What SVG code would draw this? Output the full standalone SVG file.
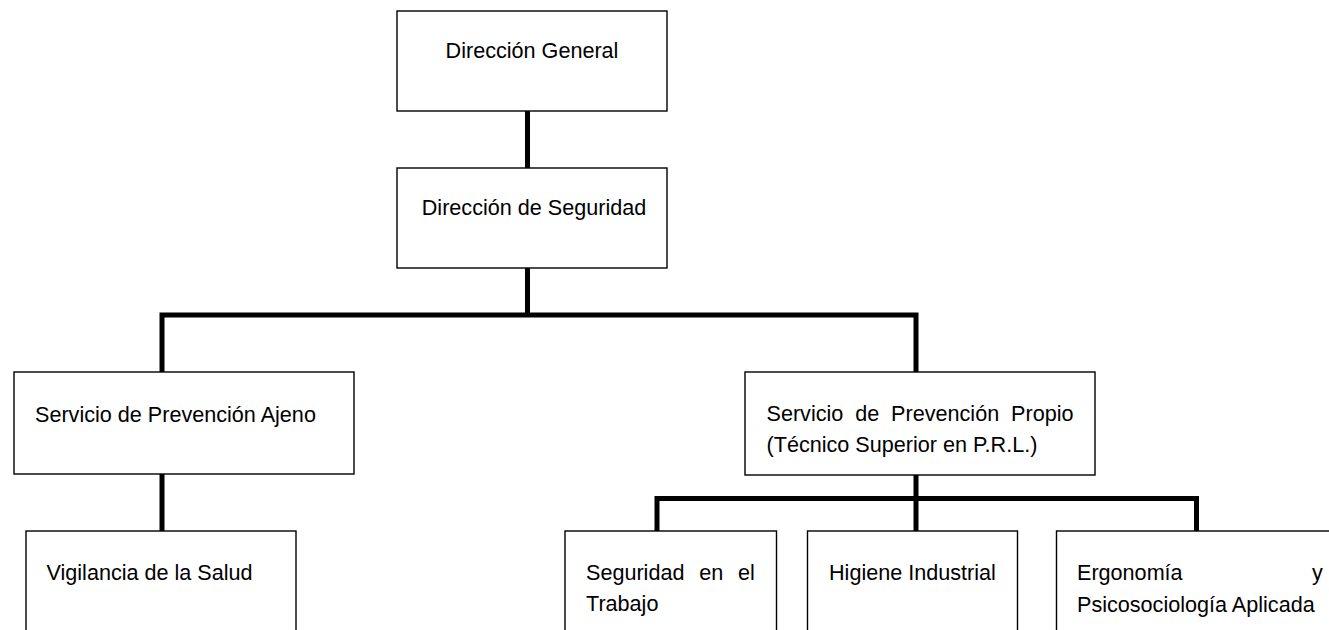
<svg xmlns="http://www.w3.org/2000/svg" width="1329" height="630" viewBox="0 0 1329 630">
<style>
.box{fill:#fff;stroke:#000;stroke-width:1.4}
.conn{fill:none;stroke:#000;stroke-width:5;stroke-linejoin:miter;stroke-linecap:butt}
text{font-family:"Liberation Sans",Arial,sans-serif;font-size:21.6px;fill:#000}
</style>
<rect width="1329" height="630" fill="#fff"/>
<g id="connectors">
<path class="conn" d="M527.5,111 V168"/>
<path class="conn" d="M527.5,268 V315"/>
<path class="conn" d="M162,372 V315 H916 V372"/>
<path class="conn" d="M162,474 V531"/>
<path class="conn" d="M916,475 V531"/>
<path class="conn" d="M657,531 V498.5 H1196.5 V531"/>
</g>
<g id="n-direccion-general">
<rect class="box" x="397" y="11" width="270" height="100"/>
<text x="532" y="58" text-anchor="middle">Dirección General</text>
</g>
<g id="n-direccion-seguridad">
<rect class="box" x="397" y="168" width="270" height="100"/>
<text x="534" y="215" text-anchor="middle">Dirección de Seguridad</text>
</g>
<g id="n-spa">
<rect class="box" x="14" y="372" width="340" height="102"/>
<text x="35" y="421.5">Servicio de Prevención Ajeno</text>
</g>
<g id="n-vigilancia">
<rect class="box" x="26" y="531" width="270" height="120"/>
<text x="46.5" y="580">Vigilancia de la Salud</text>
</g>
<g id="n-spp">
<rect class="box" x="745" y="372" width="350" height="103"/>
<text x="766.5" y="421" word-spacing="5.9">Servicio de Prevención Propio</text>
<text x="766.5" y="452">(Técnico Superior en P.R.L.)</text>
</g>
<g id="n-seguridad-trabajo">
<rect class="box" x="565" y="531" width="211.5" height="120"/>
<text x="586" y="580" word-spacing="8.8">Seguridad en el</text>
<text x="586" y="611">Trabajo</text>
</g>
<g id="n-higiene">
<rect class="box" x="807.5" y="531" width="210" height="120"/>
<text x="829" y="580">Higiene Industrial</text>
</g>
<g id="n-ergonomia">
<rect class="box" x="1056.5" y="531" width="300" height="120"/>
<text y="580"><tspan x="1077">Ergonomía</tspan><tspan x="1322.7" text-anchor="end">y</tspan></text>
<text x="1077" y="611.5">Psicosociología Aplicada</text>
</g>
</svg>
